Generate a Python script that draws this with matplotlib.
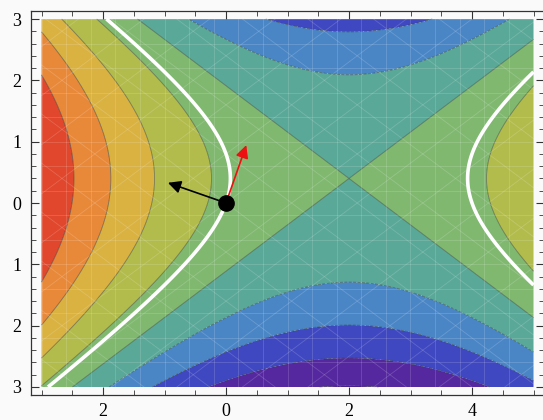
import numpy as np
import matplotlib
matplotlib.use("Agg")
import matplotlib.pyplot as plt
from matplotlib.colors import ListedColormap, BoundaryNorm

# ---- data ----
x_range = [-3.0, 5.0]
y_range = [-3.0, 3.0]
saddle = [2.0, 0.4]          # saddle point of the surface
curv_y = 1.75                 # relative curvature in y
levels = [-25, -20, -15, -10, -5, 0, 5, 10, 15, 20, 25]
band_colors = ["#4a1f96", "#5528a0", "#3f48c0", "#4a86c6", "#5aa898",
               "#80b870", "#b2bc4c", "#d9b242", "#e8893a", "#e0472c"]
point = [0.0, 0.0]
grad_arrow = [-0.944, 0.330]
tang_arrow = [0.330, 0.944]
xticks = [-2, 0, 2, 4]
xticklabels = ["2", "0", "2", "4"]
yticks = [-3, -2, -1, 0, 1, 2, 3]
yticklabels = ["3", "2", "1", "0", "1", "2", "3"]

# ---- surface ----
xs = np.linspace(x_range[0], x_range[1], 600)
ys = np.linspace(y_range[0], y_range[1], 450)
X, Y = np.meshgrid(xs, ys)
Z = (X - saddle[0]) ** 2 - curv_y * (Y - saddle[1]) ** 2
z0 = (point[0] - saddle[0]) ** 2 - curv_y * (point[1] - saddle[1]) ** 2

bg = "#fafafa"
fig = plt.figure(figsize=(5.43, 4.20), dpi=100, facecolor=bg)
ax = fig.add_axes([31 / 543, 25 / 420, 513 / 543, 384 / 420], facecolor=bg)

cmap = ListedColormap(band_colors)
norm = BoundaryNorm(levels, cmap.N)
ax.contourf(X, Y, Z, levels=levels, cmap=cmap, norm=norm, antialiased=True)
ax.contour(X, Y, Z, levels=levels, colors="#2a3a30", linewidths=0.6, alpha=0.55)

# faint mesh texture (rendering look)
mesh_kw = dict(color="white", lw=0.6, alpha=0.17, zorder=2)
for v in np.arange(-3, 5.01, 0.4):
    ax.plot([v, v], y_range, **mesh_kw)
for h in np.arange(-3, 3.01, 0.4):
    ax.plot(x_range, [h, h], **mesh_kw)
for c in np.arange(-12, 12, 0.8):
    t = np.linspace(x_range[0], x_range[1], 2)
    for s in (0.75, -0.75):
        yy = s * t + c
        yy_clip = np.clip(yy, y_range[0], y_range[1])
        tt = saddle[0] + (yy_clip - c) / s - saddle[0]
        ax.plot(tt, yy_clip, **mesh_kw)

ax.contour(X, Y, Z, levels=[z0], colors="white", linewidths=2.6, zorder=3)

ax.annotate("", xy=(point[0] + grad_arrow[0], point[1] + grad_arrow[1]), xytext=point,
            arrowprops=dict(arrowstyle="-|>", color="black", lw=1.2, mutation_scale=19,
                            shrinkA=0, shrinkB=0), zorder=5)
ax.annotate("", xy=(point[0] + tang_arrow[0], point[1] + tang_arrow[1]), xytext=point,
            arrowprops=dict(arrowstyle="-|>", color="#ee1111", lw=1.2, mutation_scale=19,
                            shrinkA=0, shrinkB=0), zorder=5)
ax.plot(point[0], point[1], "o", color="black", ms=11, zorder=6)

padx = 10.5 / 61.5
pady = 8 / 61.3
ax.set_xlim(x_range[0] - padx, x_range[1] + padx)
ax.set_ylim(y_range[0] - pady, y_range[1] + pady)

ax.set_xticks(xticks)
ax.set_xticklabels(xticklabels)
ax.set_yticks(yticks)
ax.set_yticklabels(yticklabels)
ax.set_xticks(np.arange(-3, 5.01, 0.5), minor=True)
ax.set_yticks(np.arange(-3, 3.01, 0.2), minor=True)
for lab in ax.get_xticklabels() + ax.get_yticklabels():
    lab.set_fontfamily("Liberation Serif")
    lab.set_fontsize(13)
ax.tick_params(which="both", direction="in", top=True, right=True, color="#333333")
ax.tick_params(which="major", length=6, width=0.8, pad=7)
ax.tick_params(which="minor", length=3.5, width=0.6)
ax.tick_params(axis="x", which="major", pad=5.5)
for sp in ax.spines.values():
    sp.set_color("#333333")
    sp.set_linewidth(0.9)

fig.savefig("out.png", dpi=100, facecolor=bg)
